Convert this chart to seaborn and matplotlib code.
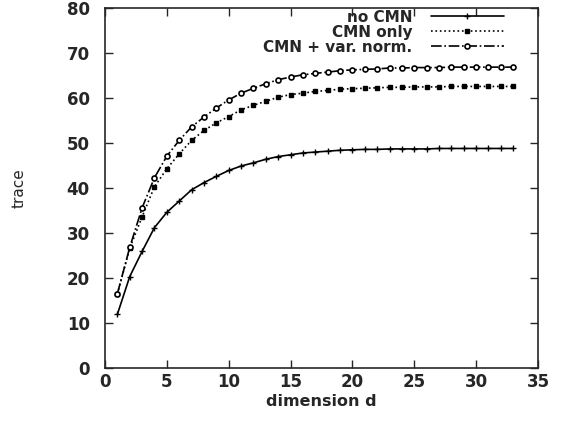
import pandas as pd
import seaborn as sns
import matplotlib.pyplot as plt

# values
dims = list(range(1, 34))
no_cmn = [11.9, 20.3, 25.9, 31.2, 34.6, 37.1, 39.6, 41.2, 42.6, 43.9, 44.9, 45.6,
          46.4, 47.0, 47.4, 47.8, 48.0, 48.2, 48.4, 48.5, 48.6, 48.6, 48.7, 48.7,
          48.7, 48.7, 48.8, 48.8, 48.8, 48.8, 48.8, 48.8, 48.8]
cmn_only = [16.4, 26.6, 33.6, 40.3, 44.3, 47.6, 50.6, 52.8, 54.5, 55.9, 57.4, 58.4,
            59.3, 60.2, 60.8, 61.1, 61.5, 61.7, 62.0, 62.1, 62.2, 62.3, 62.4, 62.4,
            62.5, 62.5, 62.5, 62.6, 62.6, 62.6, 62.6, 62.6, 62.6]
cmn_var = [16.5, 26.8, 35.6, 42.3, 47.1, 50.6, 53.6, 55.8, 57.8, 59.6, 61.1, 62.2,
           63.2, 64.1, 64.7, 65.2, 65.5, 65.8, 66.1, 66.3, 66.4, 66.5, 66.7, 66.7,
           66.8, 66.8, 66.8, 66.9, 66.9, 66.9, 66.9, 66.9, 66.9]
series_names = ["no CMN", "CMN only", "CMN + var. norm."]
x_ticks = list(range(0, 36, 5))
y_ticks = list(range(0, 81, 10))

df = pd.DataFrame({
    "d": dims * 3,
    "trace": no_cmn + cmn_only + cmn_var,
    "series": [s for s in series_names for _ in dims],
})

sns.set_style("ticks")
plt.rcParams['font.family'] = ['DejaVu Sans']

fig = plt.figure(figsize=(5.63, 4.23), dpi=100)
ax = fig.add_axes([0.1865, 0.1305, 0.769, 0.850])

styles = {
    "no CMN": dict(linestyle="-", marker="+", markersize=5, markeredgewidth=1.0),
    "CMN only": dict(linestyle=":", marker="s", markersize=3.2, markeredgewidth=1.0),
    "CMN + var. norm.": dict(linestyle="-.", marker="o", markersize=3.6,
                             markerfacecolor="white", markeredgewidth=1.2),
}
for name in series_names:
    sub = df[df["series"] == name]
    sns.lineplot(data=sub, x="d", y="trace", ax=ax, color="black", linewidth=1.2,
                 markeredgecolor="black", label=name, **styles[name])

ax.set_xlim(0, 35)
ax.set_ylim(0, 80)
ax.set_xticks(x_ticks)
ax.set_yticks(y_ticks)
ax.tick_params(direction="in", length=6, width=1, top=True, right=True,
               labelsize=12)
ax.tick_params(axis="x", pad=4)
ax.tick_params(axis="y", pad=11)
for lab in ax.get_xticklabels() + ax.get_yticklabels():
    lab.set_fontweight("bold")
for s in ax.spines.values():
    s.set_linewidth(1.2)

ax.set_xlabel("dimension d", fontsize=11.5, fontweight="bold")
ax.xaxis.set_label_coords(0.5, -0.072)
ax.set_ylabel("trace", fontsize=11, family=["Liberation Sans Narrow", "DejaVu Sans"])
ax.yaxis.set_label_coords(-0.18, 0.5)

leg = ax.legend(loc="upper right", bbox_to_anchor=(0.925, 1.0), frameon=False,
                markerfirst=False, handlelength=4.8, handletextpad=1.2,
                labelspacing=0.0, borderpad=0.1, borderaxespad=0, numpoints=1,
                prop={"size": 11, "weight": "bold"})

fig.savefig("out.png", dpi=100)
